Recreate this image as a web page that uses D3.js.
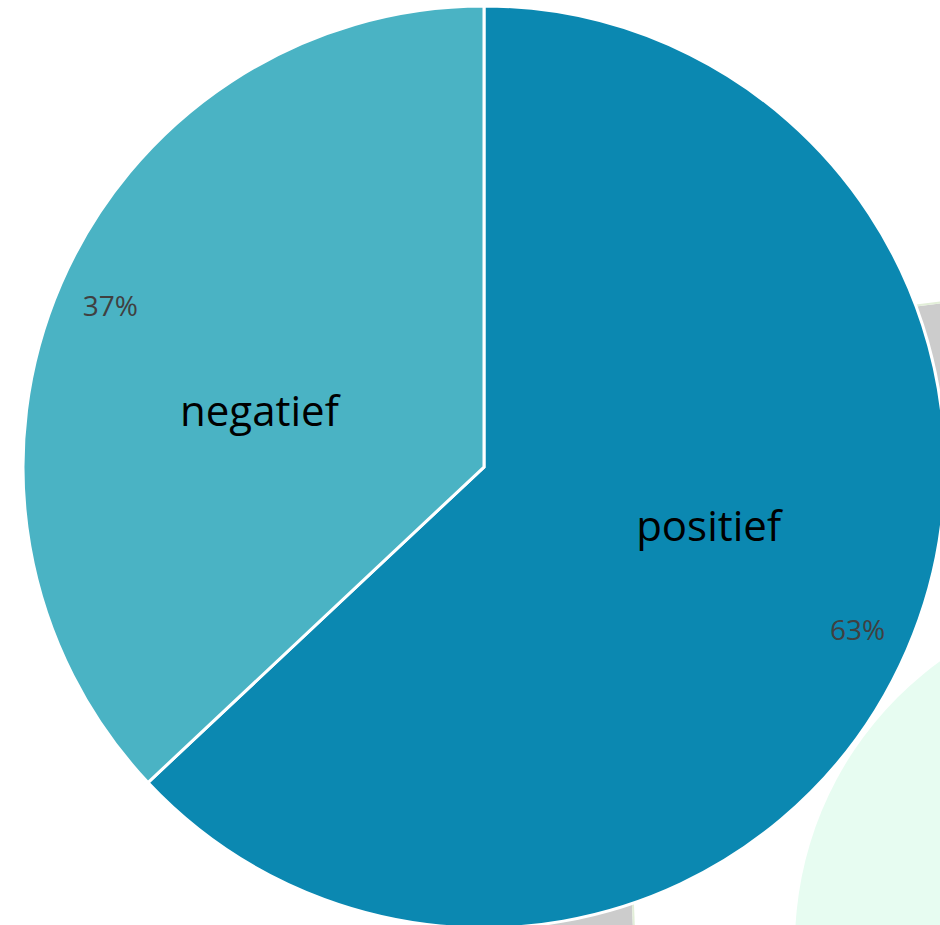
<!DOCTYPE html>
<html>
<head>
<meta charset="utf-8">
<script src="https://cdn.jsdelivr.net/npm/d3@7"></script>
<style>
  html, body { margin: 0; padding: 0; background: #ffffff; }
  svg { display: block; }
</style>
</head>
<body>
<svg id="chart" width="940" height="925"></svg>
<script>
const categories = ["positief", "negatief"];
const values = [63, 37];
const percentLabels = ["63%", "37%"];
const colors = ["#0b88b1", "#4ab3c4"];

const svg = d3.select("#chart");
const cx = 484, cy = 467, R = 461;

// background decorations (partially hidden shapes behind the pie)
svg.append("polygon")
  .attr("points", "880,311 960,301 960,470 880,470")
  .attr("fill", "#cccccc");
svg.append("line")
  .attr("x1", 880).attr("y1", 310).attr("x2", 960).attr("y2", 300)
  .attr("stroke", "#e2eed8").attr("stroke-width", 2);
svg.append("polygon")
  .attr("points", "520,880 631,880 633,930 520,930")
  .attr("fill", "#cccccc");
svg.append("line")
  .attr("x1", 632).attr("y1", 880).attr("x2", 634).attr("y2", 930)
  .attr("stroke", "#e2eed8").attr("stroke-width", 2);
svg.append("circle")
  .attr("cx", 1145).attr("cy", 945).attr("r", 350)
  .attr("fill", "#e7fcf1");

const data = categories.map((c, i) => ({ name: c, value: values[i], pct: percentLabels[i], color: colors[i] }));

const pie = d3.pie().sort(null).value(d => d.value);
const arcs = pie(data);
const arc = d3.arc().innerRadius(0).outerRadius(R);

const g = svg.append("g").attr("transform", `translate(${cx},${cy})`);

g.selectAll("path.slice")
  .data(arcs)
  .join("path")
  .attr("class", "slice")
  .attr("d", arc)
  .attr("fill", d => d.data.color)
  .attr("stroke", "#ffffff")
  .attr("stroke-width", 3)
  .attr("stroke-linejoin", "miter");

function polar(angle, r) {
  return [Math.sin(angle) * r, -Math.cos(angle) * r];
}

// percentage labels
g.selectAll("text.pct")
  .data(arcs)
  .join("text")
  .attr("class", "pct")
  .attr("transform", d => {
    const a = (d.startAngle + d.endAngle) / 2;
    const [x, y] = polar(a, R * 0.883);
    return `translate(${x},${y})`;
  })
  .attr("text-anchor", "middle")
  .attr("dominant-baseline", "central")
  .attr("font-family", "'Open Sans', 'Noto Sans', sans-serif")
  .attr("font-size", 28)
  .attr("fill", "#404040")
  .text(d => d.data.pct);

// category labels
const offset = -9 * Math.PI / 180;
g.selectAll("text.cat")
  .data(arcs)
  .join("text")
  .attr("class", "cat")
  .attr("transform", d => {
    const a = (d.startAngle + d.endAngle) / 2 + offset;
    const [x, y] = polar(a, R * 0.503);
    return `translate(${x},${y})`;
  })
  .attr("text-anchor", "middle")
  .attr("dominant-baseline", "central")
  .attr("font-family", "'Open Sans', 'Noto Sans', sans-serif")
  .attr("font-size", 42)
  .attr("fill", "#000000")
  .text(d => d.data.name);
</script>
</body>
</html>
